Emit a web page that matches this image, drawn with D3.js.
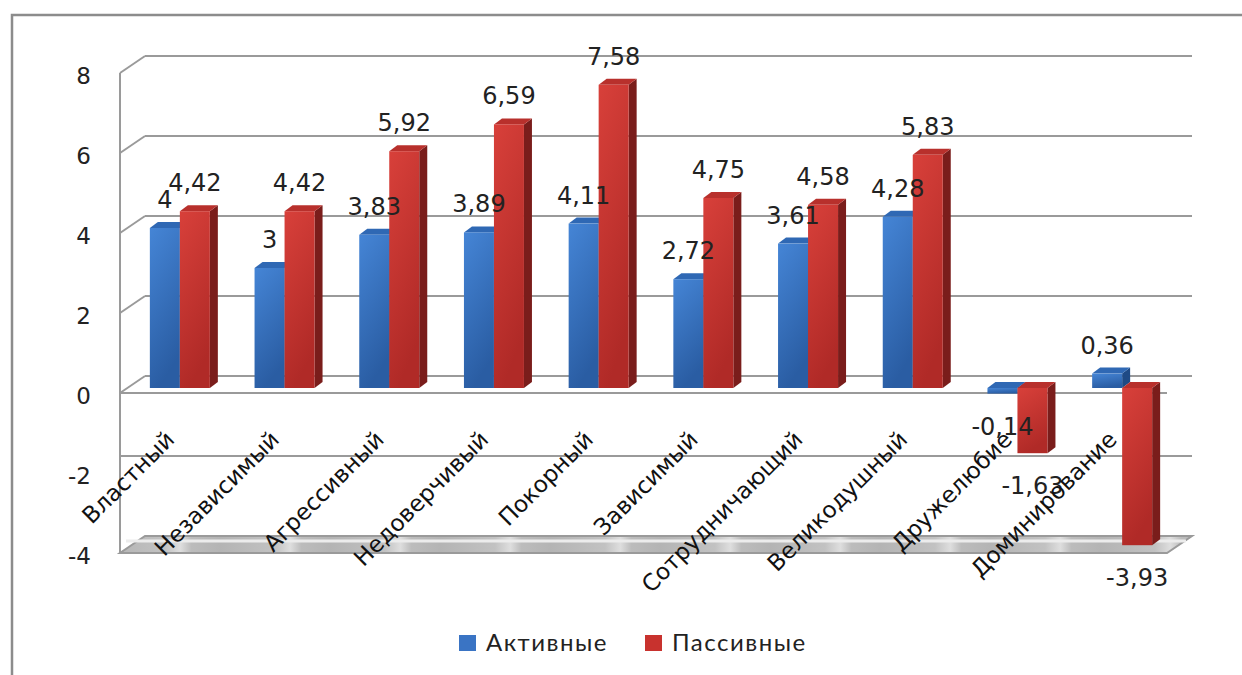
<!DOCTYPE html>
<html>
<head>
<meta charset="utf-8">
<script src="https://cdn.jsdelivr.net/npm/d3@7"></script>
<style>
  body { margin: 0; background: #fff; }
  svg { display: block; }
</style>
</head>
<body>
<div id="chart"></div>
<script>
// data
const categories = ['Властный', 'Независимый', 'Агрессивный', 'Недоверчивый', 'Покорный',
  'Зависимый', 'Сотрудничающий', 'Великодушный', 'Дружелюбие', 'Доминирование'];
const active = [4, 3, 3.83, 3.89, 4.11, 2.72, 3.61, 4.28, -0.14, 0.36];
const passive = [4.42, 4.42, 5.92, 6.59, 7.58, 4.75, 4.58, 5.83, -1.63, -3.93];
const seriesNames = ['Активные', 'Пассивные'];
const yTicks = [-4, -2, 0, 2, 4, 6, 8];

const width = 1242;
const height = 675;
// depth offsets of the 3D box
const depth = {dx: 25, dy: 17};
const barShift = {dx: -17.5, dy: 12};
const side = {dx: 8, dy: 6};

const colors = {
  blue: {front: 'url(#gBlue)', top: '#2f68b4', side: '#1f4a85'},
  red: {front: 'url(#gRed)', top: '#b8302c', side: '#7a1d1b'}
};

const svg = d3.select('#chart')
  .append('svg')
  .attr('width', width)
  .attr('height', height)
  .attr('viewBox', [0, 0, width, height]);

const defs = svg.append('defs');
function vGrad(id, c1, c2) {
  const g = defs.append('linearGradient').attr('id', id)
    .attr('x1', 0).attr('y1', 0).attr('x2', 0.3).attr('y2', 1);
  g.append('stop').attr('offset', 0).attr('stop-color', c1);
  g.append('stop').attr('offset', 1).attr('stop-color', c2);
}
vGrad('gBlue', '#4585d6', '#2a5da3');
vGrad('gRed', '#d8403a', '#b02a27');

const floorGrad = defs.append('linearGradient').attr('id', 'gFloor')
  .attr('gradientUnits', 'userSpaceOnUse')
  .attr('x1', 0).attr('y1', 0).attr('x2', 110).attr('y2', 0)
  .attr('spreadMethod', 'repeat');
[[0, '#b4b4b4'], [0.5, '#c2c2c2'], [0.64, '#dedede'], [0.74, '#bcbcbc'], [1, '#b4b4b4']]
  .forEach(([o, c]) => floorGrad.append('stop').attr('offset', o).attr('stop-color', c));

svg.append('rect').attr('width', width).attr('height', height).attr('fill', '#fff');

// outer frame (only top and left edges are in view)
svg.append('path')
  .attr('d', 'M12,675V15H1242')
  .attr('fill', 'none').attr('stroke', '#8c8c8c').attr('stroke-width', 2.5);

// scales on the back wall
const x = d3.scaleBand()
  .domain(categories)
  .range([145, 1192]);

const y = d3.scaleLinear()
  .domain([-4, 8])
  .range([536, 56]);

const groupW = 60;
const xSub = d3.scaleBand()
  .domain(seriesNames)
  .range([0, groupW]);

const left = x.range()[0];
const right = x.range()[1];
const line = d3.line();
const gridColor = '#9a9a9a';

// floor at the bottom
const yMin = y.domain()[0];
svg.append('path')
  .attr('d', line([[left - depth.dx, y(yMin) + depth.dy], [right - depth.dx, y(yMin) + depth.dy],
    [right, y(yMin)], [left, y(yMin)]]) + 'Z')
  .attr('fill', 'url(#gFloor)')
  .attr('stroke', gridColor).attr('stroke-width', 2);
svg.append('path')
  .attr('d', line([[left - depth.dx + 6, y(yMin) + 5], [right - 6, y(yMin) + 5]]))
  .attr('stroke', '#ececec').attr('stroke-width', 3).attr('fill', 'none');

// gridlines on back wall + left wall diagonals
const grid = svg.append('g').attr('stroke', gridColor).attr('stroke-width', 2).attr('fill', 'none');
yTicks.filter(t => t > yMin).forEach(t => {
  const x0 = t === -2 ? left - depth.dx : left;
  grid.append('path').attr('d', line([[x0, y(t)], [right, y(t)]]));
  if (t >= 0) {
    grid.append('path').attr('d', line([[left - depth.dx, y(t) + depth.dy], [left, y(t)]]));
  }
});
// left wall front edge
grid.append('path').attr('d', line([[left - depth.dx, y(8) + depth.dy], [left - depth.dx, y(yMin) + depth.dy]]));
// front line at zero
grid.append('path').attr('d', line([[left - depth.dx, y(0) + depth.dy], [right - depth.dx, y(0) + depth.dy]]));

// y tick labels
svg.append('g')
  .selectAll('text')
  .data(yTicks)
  .join('text')
  .attr('x', 91)
  .attr('y', d => y(d) + depth.dy + 11)
  .attr('text-anchor', 'end')
  .attr('font-family', 'DejaVu Sans')
  .attr('font-size', 23)
  .attr('fill', '#222')
  .text(d => d);

// bars
const bars = svg.append('g');
const y0 = y(0) + barShift.dy;
categories.forEach((c, i) => {
  const vals = [active[i], passive[i]];
  vals.forEach((v, s) => {
    const col = s === 0 ? colors.blue : colors.red;
    const bx = x(c) + (x.bandwidth() - groupW) / 2 + xSub(seriesNames[s]) + barShift.dx;
    const bw = xSub.bandwidth();
    const yv = y(v) + barShift.dy;
    const top = Math.min(yv, y0);
    const bot = Math.max(yv, y0);
    // side face
    bars.append('path')
      .attr('d', line([[bx + bw, top], [bx + bw + side.dx, top - side.dy],
        [bx + bw + side.dx, bot - side.dy], [bx + bw, bot]]) + 'Z')
      .attr('fill', col.side);
    // top face
    bars.append('path')
      .attr('d', line([[bx, top], [bx + side.dx, top - side.dy],
        [bx + bw + side.dx, top - side.dy], [bx + bw, top]]) + 'Z')
      .attr('fill', col.top);
    // front face
    bars.append('rect')
      .attr('x', bx).attr('y', top)
      .attr('width', bw).attr('height', Math.max(bot - top, 0.5))
      .attr('fill', col.front);
  });
});

// value labels
const fmt = v => String(v).replace('.', ',');
const labels = svg.append('g')
  .attr('font-family', 'DejaVu Sans')
  .attr('font-size', 24)
  .attr('fill', '#222')
  .attr('text-anchor', 'middle');
categories.forEach((c, i) => {
  [active[i], passive[i]].forEach((v, s) => {
    const cx = x(c) + (x.bandwidth() - groupW) / 2 + xSub(seriesNames[s]) + barShift.dx + xSub.bandwidth() / 2;
    const yv = y(v) + barShift.dy;
    labels.append('text')
      .attr('x', cx)
      .attr('y', v >= 0 ? yv - 20 : yv + 41)
      .text(fmt(v));
  });
});

// category labels
svg.append('g')
  .selectAll('text')
  .data(categories)
  .join('text')
  .attr('transform', d => `translate(${x(d) + x.bandwidth() / 2 + barShift.dx - 4},441) rotate(-45)`)
  .attr('text-anchor', 'end')
  .attr('font-family', 'DejaVu Sans')
  .attr('font-size', 23)
  .attr('fill', '#111')
  .text(d => d);

// legend
const legend = svg.append('g').attr('font-family', 'Lato').attr('font-size', 24)
  .attr('letter-spacing', 1.5).attr('fill', '#222');
const legendItems = [
  {name: seriesNames[0], color: '#3a74c4', x: 459},
  {name: seriesNames[1], color: '#c8322e', x: 645}
];
legendItems.forEach(d => {
  legend.append('rect').attr('x', d.x).attr('y', 635).attr('width', 17).attr('height', 16).attr('fill', d.color);
  legend.append('text').attr('x', d.x + 27).attr('y', 651).text(d.name);
});
</script>
</body>
</html>
